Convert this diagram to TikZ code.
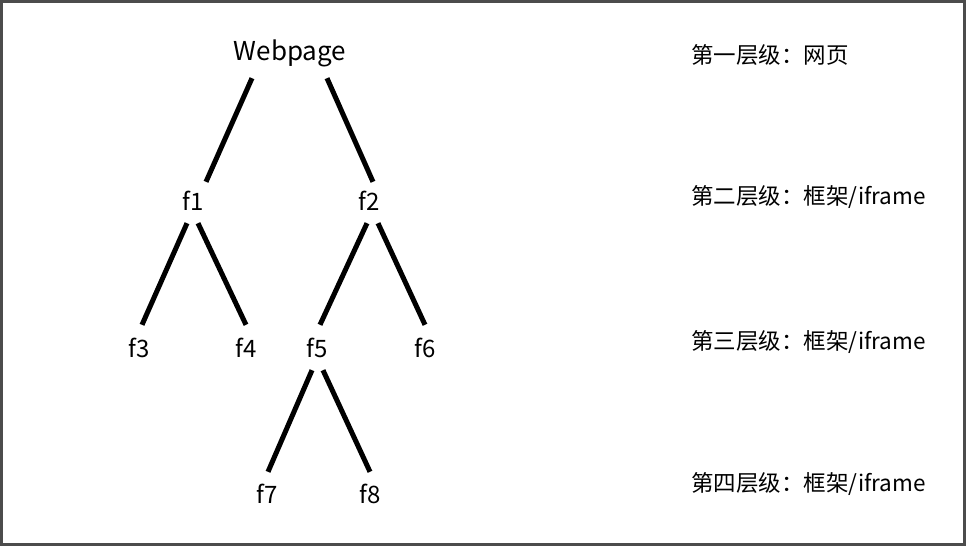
\documentclass[tikz,border=0pt]{standalone}
\usepackage{fontspec}
\setmainfont{Noto Sans CJK SC}
\begin{document}
\begin{tikzpicture}[x=1pt,y=-1pt,
  leaf/.style={font=\fontsize{24}{24}\selectfont, inner sep=0pt, text height=18pt, text depth=0pt},
  levelnote/.style={font=\fontsize{22.5}{22.5}\selectfont, anchor=west, inner sep=0pt},
  branch/.style={line width=5pt}]
%\draw[help lines,step=50] (0,0) grid (966,546);
\useasboundingbox (0,0) rectangle (966,546);
\draw [black!70, line width=3pt] (1.5,1.5) rectangle (964.5,544.5);

\node [leaf, font=\fontsize{26}{26}\selectfont] (web) at (290,51) {Webpage};
\node [leaf] (f1) at (193,201) {f1};
\node [leaf] (f2) at (369,201) {f2};
\node [leaf] (f3) at (139,348) {f3};
\node [leaf] (f4) at (246,348) {f4};
\node [leaf] (f5) at (317,348) {f5};
\node [leaf] (f6) at (425,348) {f6};
\node [leaf] (f7) at (267,494) {f7};
\node [leaf] (f8) at (370,494) {f8};

\draw [branch] ([xshift=-38pt,yshift=-18pt]web.south) -- ([xshift=13pt,yshift=10pt]f1.north);
\draw [branch] ([xshift=37pt,yshift=-18pt]web.south) -- ([xshift=4pt,yshift=10pt]f2.north);
\draw [branch] ([xshift=-6pt,yshift=-13pt]f1.south) -- ([xshift=3pt,yshift=14pt]f3.north);
\draw [branch] ([xshift=5pt,yshift=-13pt]f1.south) -- ([yshift=14pt]f4.north);
\draw [branch] ([xshift=-2pt,yshift=-13pt]f2.south) -- ([xshift=3pt,yshift=14pt]f5.north);
\draw [branch] ([xshift=9pt,yshift=-13pt]f2.south) -- ([yshift=14pt]f6.north);
\draw [branch] ([xshift=-5pt,yshift=-13pt]f5.south) -- ([xshift=1pt,yshift=13pt]f7.north);
\draw [branch] ([xshift=6pt,yshift=-13pt]f5.south) -- ([yshift=13pt]f8.north);

\node [levelnote] (l1) at (691,55) {第一层级：网页};
\node [levelnote] (l2) at (691,197) {第二层级：框架/iframe};
\node [levelnote] (l3) at (691,342) {第三层级：框架/iframe};
\node [levelnote] (l4) at (691,484) {第四层级：框架/iframe};
\end{tikzpicture}
\end{document}
